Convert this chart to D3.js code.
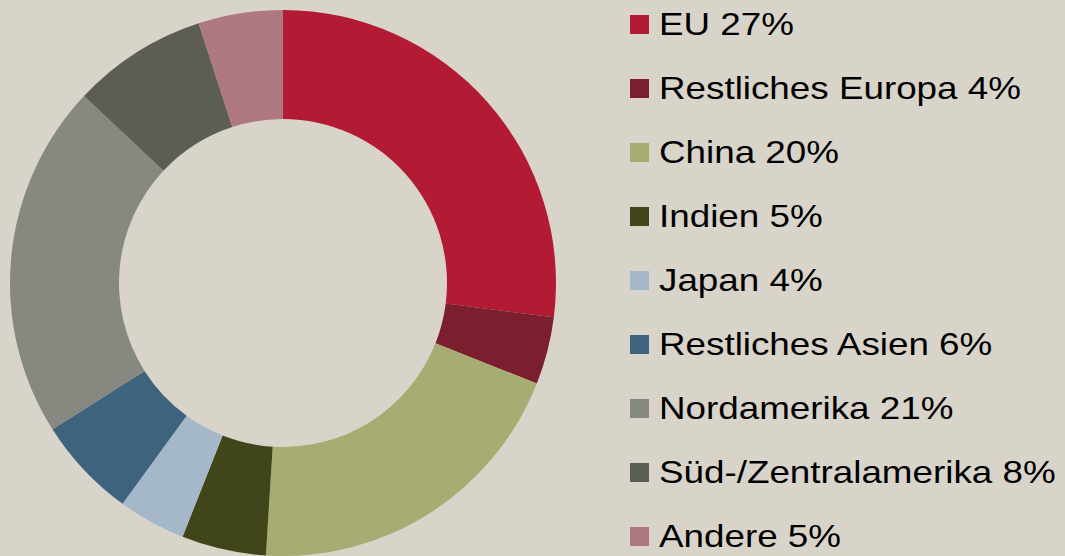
<!DOCTYPE html>
<html>
<head>
<meta charset="utf-8">
<script src="https://cdn.jsdelivr.net/npm/d3@7"></script>
<style>
  html, body { margin: 0; padding: 0; background: #d8d4ca; }
  svg { display: block; }
</style>
</head>
<body>
<div id="chart"></div>
<script>
// Anteile nach Region (Prozent)
const regions = ['EU', 'Restliches Europa', 'China', 'Indien', 'Japan',
                 'Restliches Asien', 'Nordamerika', 'Süd-/Zentralamerika', 'Andere'];
const shares = [27, 4, 20, 5, 4, 6, 21, 8, 5];
const colors = ['#b31b34', '#7b1f2e', '#a7ac73', '#404619', '#a5b8ca',
                '#3e637e', '#878880', '#5c5d53', '#ae7880'];

const width = 1065;
const height = 556;
const cx = 283, cy = 283;
const outerR = 273, innerR = 164;

const svg = d3.select('#chart').append('svg')
    .attr('width', width)
    .attr('height', height);

svg.append('rect')
    .attr('width', width)
    .attr('height', height)
    .attr('fill', '#d8d4ca');

const data = regions.map((r, i) => ({ region: r, value: shares[i], color: colors[i] }));

const pie = d3.pie()
    .value(d => d.value)
    .sort(null);

const arc = d3.arc()
    .innerRadius(innerR)
    .outerRadius(outerR);

// Donut
svg.append('g')
    .attr('transform', `translate(${cx},${cy})`)
    .selectAll('path')
    .data(pie(data))
    .enter()
    .append('path')
    .attr('d', arc)
    .attr('fill', d => d.data.color);

// Legende
const rowY = d3.scaleLinear()
    .domain([0, regions.length - 1])
    .range([15, 527]);

const legend = svg.append('g')
    .selectAll('g')
    .data(data)
    .enter()
    .append('g')
    .attr('transform', (d, i) => `translate(630,${rowY(i)})`);

legend.append('rect')
    .attr('width', 19)
    .attr('height', 19)
    .attr('fill', d => d.color);

// Schrift im Original etwas breiter gezogen
legend.append('text')
    .attr('transform', 'translate(29,19.5) scale(1.15,1)')
    .attr('font-family', 'Liberation Sans, Arial, sans-serif')
    .attr('font-size', '32px')
    .attr('fill', '#000')
    .text(d => `${d.region} ${d.value}%`);
</script>
</body>
</html>
